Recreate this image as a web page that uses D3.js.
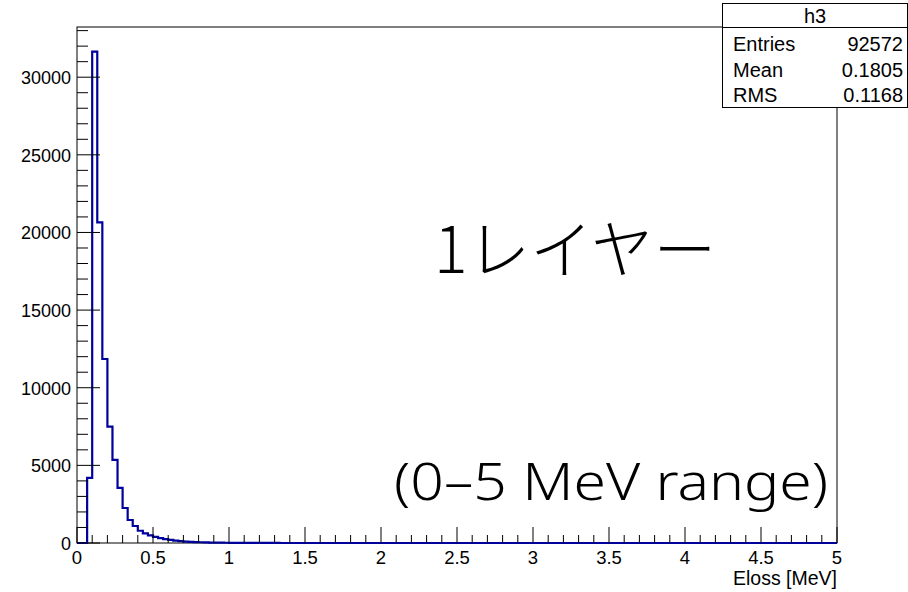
<!DOCTYPE html>
<html><head><meta charset="utf-8">
<script src="https://cdn.jsdelivr.net/npm/d3@7"></script>
<style>
html,body{margin:0;padding:0;background:#fff;}
svg{display:block;}
text{font-family:"Liberation Sans",Arial,Helvetica,sans-serif;fill:#000;}
</style></head>
<body><svg id="c" width="908" height="592"></svg>
<script>
// ---- data ----
const histName = "h3";
const xLow = 0, xHigh = 5, nBins = 150;
// bin contents (bin index 0..), remaining bins are empty
const counts = [0, 0, 4200, 31650, 20650, 11850, 7500, 5350, 3545, 2255, 1480, 1095, 790,
  620, 490, 390, 310, 245, 195, 155, 120, 95, 75, 60, 48, 38, 30, 24, 19, 15, 12, 10, 8, 6, 5, 4, 3, 3, 2, 2, 1];
const statLabels = ["Entries", "Mean", "RMS"];
const statValues = ["92572", "0.1805", "0.1168"];
const xTicks = [0, 0.5, 1, 1.5, 2, 2.5, 3, 3.5, 4, 4.5, 5];
const xTickLabels = ["0", "0.5", "1", "1.5", "2", "2.5", "3", "3.5", "4", "4.5", "5"];
const yTicks = [0, 5000, 10000, 15000, 20000, 25000, 30000];
const xTitle = "Eloss [MeV]";
const note1 = "1レイヤー";
const note2 = "(0–5 MeV range)";

// ---- layout ----
const svg = d3.select("#c");
const L = 77, R = 837, T = 27, B = 543;
const yMax = d3.max(counts) * 1.05;
const x = d3.scaleLinear().domain([xLow, xHigh]).range([L, R]);
const y = d3.scaleLinear().domain([0, yMax]).range([B, T]);

svg.append("rect").attr("width", 908).attr("height", 592).attr("fill", "#fff");

// frame
svg.append("rect").attr("x", L).attr("y", T).attr("width", R - L).attr("height", B - T)
  .attr("fill", "none").attr("stroke", "#000").attr("stroke-width", 1);

// histogram outline
const bw = (xHigh - xLow) / nBins;
const pts = [[x(xLow), y(0)]];
counts.forEach((c, i) => {
  const x0 = xLow + i * bw, x1 = x0 + bw;
  pts.push([x(x0), y(c)]);
  pts.push([x(x1), y(c)]);
});
pts.push([x(xLow + counts.length * bw), y(0)]);
pts.push([x(xHigh), y(0)]);
svg.append("path").attr("d", d3.line()(pts)).attr("fill", "none")
  .attr("stroke", "#00009c").attr("stroke-width", 2.2).attr("stroke-linejoin", "miter");

// x axis ticks (inward)
const xMinor = d3.range(0, 51).map(i => i / 10);
const gx = svg.append("g");
xMinor.forEach(v => {
  const major = Math.abs(v * 2 - Math.round(v * 2)) < 1e-6;
  gx.append("line").attr("x1", x(v)).attr("x2", x(v)).attr("y1", B).attr("y2", B - (major ? 16 : 8))
    .attr("stroke", "#000").attr("stroke-width", 1);
});
xTicks.forEach((v, i) => {
  gx.append("text").attr("x", x(v)).attr("y", B + 21).attr("text-anchor", "middle")
    .attr("font-size", 18.5).text(xTickLabels[i]);
});
svg.append("text").attr("x", R).attr("y", B + 42).attr("text-anchor", "end")
  .attr("font-size", 19.5).text(xTitle);

// y axis ticks (inward)
const gy = svg.append("g");
d3.range(0, 34).map(i => i * 1000).filter(v => v <= yMax).forEach(v => {
  const major = v % 5000 === 0;
  gy.append("line").attr("x1", L).attr("x2", L + (major ? 23 : 11)).attr("y1", y(v)).attr("y2", y(v))
    .attr("stroke", "#000").attr("stroke-width", 1);
});
yTicks.forEach(v => {
  gy.append("text").attr("x", L - 6).attr("y", y(v) + 7).attr("text-anchor", "end")
    .attr("font-size", 18).text(d3.format("d")(v));
});

// annotations
svg.append("text").attr("x", 434).attr("y", 273).attr("font-size", 64)
  .attr("textLength", 282).attr("lengthAdjust", "spacingAndGlyphs")
  .style("font-family", "'Noto Sans CJK JP',sans-serif").style("font-weight", 300).text(note1);
svg.append("text").attr("x", 394).attr("y", 500).attr("font-size", 52)
  .attr("textLength", 434).attr("lengthAdjust", "spacingAndGlyphs")
  .style("font-family", "'Noto Sans','Noto Sans CJK JP',sans-serif").style("font-weight", 300).text(note2);

// stats box
const sbL = 722.5, sbR = 907.5, sbT = 3.5, sbB = 107.5, sbSep = 27.5;
svg.append("rect").attr("x", sbL).attr("y", sbT).attr("width", sbR - sbL).attr("height", sbB - sbT)
  .attr("fill", "#fff").attr("stroke", "#000").attr("stroke-width", 1);
svg.append("line").attr("x1", sbL).attr("x2", sbR).attr("y1", sbSep).attr("y2", sbSep)
  .attr("stroke", "#000").attr("stroke-width", 1);
svg.append("text").attr("x", (sbL + sbR) / 2).attr("y", 23).attr("text-anchor", "middle")
  .attr("font-size", 20).text(histName);
statLabels.forEach((s, i) => {
  const yy = 51 + i * 25.5;
  svg.append("text").attr("x", 733).attr("y", yy).attr("font-size", 20).text(s);
  svg.append("text").attr("x", 903).attr("y", yy).attr("text-anchor", "end").attr("font-size", 20).text(statValues[i]);
});
</script></body></html>
